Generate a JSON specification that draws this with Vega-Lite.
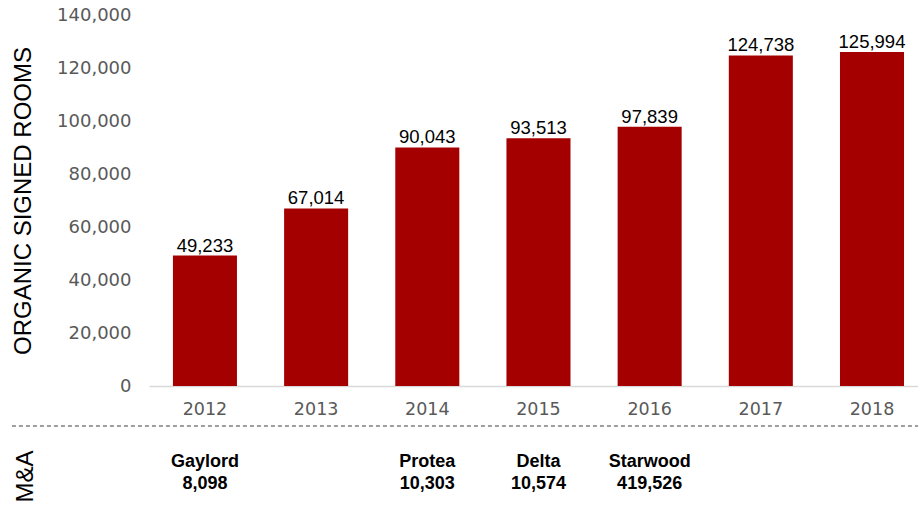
{
  "$schema": "https://vega.github.io/schema/vega-lite/v6.json",
  "padding": {"left": 11, "top": 6, "right": 0, "bottom": 3},
  "background": "white",
  "config": {"view": {"stroke": null}, "font": "Liberation Sans"},
  "datasets": {
    "rooms": [
      {"year": "2012", "rooms": 49233},
      {"year": "2013", "rooms": 67014},
      {"year": "2014", "rooms": 90043},
      {"year": "2015", "rooms": 93513},
      {"year": "2016", "rooms": 97839},
      {"year": "2017", "rooms": 124738},
      {"year": "2018", "rooms": 125994}
    ],
    "ma": [
      {"year": "2012", "company": "Gaylord", "acquired": 8098},
      {"year": "2014", "company": "Protea", "acquired": 10303},
      {"year": "2015", "company": "Delta", "acquired": 10574},
      {"year": "2016", "company": "Starwood", "acquired": 419526}
    ]
  },
  "spacing": 7,
  "vconcat": [
    {
      "width": 770,
      "height": 371,
      "data": {"name": "rooms"},
      "encoding": {
        "x": {
          "field": "year",
          "type": "ordinal",
          "scale": {"type": "band", "paddingInner": 0.424, "paddingOuter": 0.175, "align": 0.615},
          "axis": {
            "title": null,
            "labelFont": "DejaVu Sans",
            "labelFontSize": 17.5,
            "labelColor": "#595959",
            "labelPadding": 14,
            "labelAngle": 0,
            "ticks": false,
            "tickSize": 0,
            "domainColor": "#D9D9D9",
            "domainWidth": 1.5
          }
        }
      },
      "layer": [
        {
          "mark": {"type": "bar", "color": "#A50000"},
          "encoding": {
            "y": {
              "field": "rooms",
              "type": "quantitative",
              "scale": {"domain": [0, 140000]},
              "axis": {
                "values": [0, 20000, 40000, 60000, 80000, 100000, 120000, 140000],
                "format": ",.0f",
                "title": "ORGANIC SIGNED ROOMS",
                "titleFont": "Liberation Sans",
                "titleFontSize": 24,
                "titleFontWeight": "normal",
                "titleColor": "black",
                "titlePadding": 21,
                "labelFont": "DejaVu Sans",
                "labelFontSize": 18,
                "labelColor": "#595959",
                "labelPadding": 18,
                "ticks": false,
                "tickSize": 0,
                "domain": false,
                "grid": false
              }
            }
          }
        },
        {
          "mark": {"type": "text", "baseline": "alphabetic", "dy": -4, "fontSize": 18.5, "font": "Liberation Sans", "color": "black"},
          "encoding": {
            "y": {"field": "rooms", "type": "quantitative"},
            "text": {"field": "rooms", "type": "quantitative", "format": ",.0f"}
          }
        }
      ]
    },
    {
      "width": 770,
      "height": 76,
      "layer": [
        {
          "data": {"values": [{}]},
          "mark": {"type": "rule", "strokeDash": [4, 3], "color": "#7F7F7F", "strokeWidth": 1.5},
          "encoding": {
            "x": {"datum": -0.178, "type": "quantitative", "scale": {"domain": [0, 1]}, "axis": null},
            "x2": {"datum": 1},
            "y": {
              "datum": 1,
              "type": "quantitative",
              "scale": {"domain": [0, 1]},
              "axis": {
                "title": "M&A",
                "titleFont": "Liberation Sans",
                "titleFontSize": 24,
                "titleFontWeight": "normal",
                "titleColor": "black",
                "titlePadding": 112,
                "titleAnchor": "start",
                "labels": false,
                "ticks": false,
                "tickSize": 0,
                "domain": false,
                "grid": false
              }
            }
          }
        },
        {
          "data": {"name": "ma"},
          "mark": {"type": "text", "baseline": "alphabetic", "dy": 3, "fontSize": 18, "fontWeight": "bold", "font": "Liberation Sans", "color": "black"},
          "encoding": {
            "x": {
              "field": "year",
              "type": "ordinal",
              "scale": {"type": "band", "domain": ["2012", "2013", "2014", "2015", "2016", "2017", "2018"], "paddingInner": 0.424, "paddingOuter": 0.175, "align": 0.615},
              "axis": null
            },
            "y": {"datum": 0.5, "type": "quantitative"},
            "text": {"field": "company", "type": "nominal"}
          }
        },
        {
          "data": {"name": "ma"},
          "mark": {"type": "text", "baseline": "alphabetic", "dy": 25, "fontSize": 18, "fontWeight": "bold", "font": "Liberation Sans", "color": "black"},
          "encoding": {
            "x": {
              "field": "year",
              "type": "ordinal",
              "scale": {"type": "band", "domain": ["2012", "2013", "2014", "2015", "2016", "2017", "2018"], "paddingInner": 0.424, "paddingOuter": 0.175, "align": 0.615},
              "axis": null
            },
            "y": {"datum": 0.5, "type": "quantitative"},
            "text": {"field": "acquired", "type": "quantitative", "format": ",.0f"}
          }
        }
      ],
      "resolve": {"scale": {"x": "independent"}}
    }
  ]
}
